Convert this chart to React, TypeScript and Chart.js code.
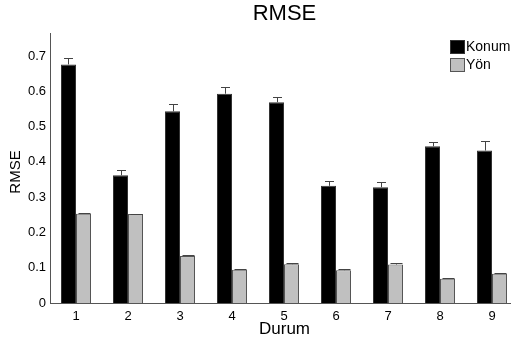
import React, { useEffect, useRef } from 'react';
import { Chart, registerables } from 'chart.js';

Chart.register(...registerables);

const categories = [1, 2, 3, 4, 5, 6, 7, 8, 9];
const seriesNames = ['Konum', 'Yön'];
const konumValues = [0.676, 0.362, 0.543, 0.593, 0.569, 0.332, 0.328, 0.444, 0.432];
const konumErrors = [0.019, 0.015, 0.021, 0.020, 0.016, 0.013, 0.014, 0.013, 0.027];
const yonValues = [0.253, 0.252, 0.133, 0.094, 0.110, 0.093, 0.109, 0.069, 0.083];
const yonErrors = [0.001, 0.001, 0.004, 0.002, 0.002, 0.002, 0.004, 0.001, 0.002];
const yTickValues = [0, 0.1, 0.2, 0.3, 0.4, 0.5, 0.6, 0.7];
const chartTitle = 'RMSE';
const xAxisTitle = 'Durum';
const yAxisTitle = 'RMSE';

const FONT = '"Liberation Sans", Arial, Helvetica, sans-serif';
const seriesFill = ['#000000', '#c0c0c0'];
const seriesBorder = ['#333333', '#555555'];
const errorSets = [konumErrors, yonErrors];
const capWidths = [9, 12];

const errorBarPlugin = {
  id: 'errorBars',
  afterDatasetsDraw(chart: any) {
    const ctx = chart.ctx;
    const yScale = chart.scales.y;
    ctx.save();
    ctx.strokeStyle = '#444444';
    ctx.lineWidth = 1;
    chart.data.datasets.forEach((ds: any, i: number) => {
      const meta = chart.getDatasetMeta(i);
      meta.data.forEach((bar: any, j: number) => {
        const v = ds.data[j].y;
        const e = errorSets[i][j];
        const yTop = Math.round(yScale.getPixelForValue(v + e)) + 0.5;
        const yBar = bar.y;
        const x = Math.round(bar.x) + 0.5;
        const cw = capWidths[i] / 2;
        ctx.beginPath();
        ctx.moveTo(x, yBar);
        ctx.lineTo(x, yTop);
        ctx.moveTo(x - cw, yTop);
        ctx.lineTo(x + cw, yTop);
        ctx.stroke();
      });
    });
    ctx.restore();
  },
};

const textPlugin = {
  id: 'texts',
  afterDraw(chart: any) {
    const ctx = chart.ctx;
    const area = chart.chartArea;
    ctx.save();
    ctx.fillStyle = '#000';
    ctx.textAlign = 'center';
    ctx.textBaseline = 'middle';
    ctx.font = `22px ${FONT}`;
    ctx.fillText(chartTitle, 284.5, 14);
    ctx.font = `17px ${FONT}`;
    ctx.fillText(xAxisTitle, 284.5, 329);
    ctx.save();
    ctx.translate(16, (area.top + area.bottom) / 2 + 4);
    ctx.rotate(-Math.PI / 2);
    ctx.font = `15px ${FONT}`;
    ctx.fillText(yAxisTitle, 0, 0);
    ctx.restore();
    ctx.font = `14px ${FONT}`;
    ctx.textAlign = 'left';
    seriesNames.forEach((name, i) => {
      const top = 40 + i * 18;
      ctx.fillStyle = seriesFill[i];
      ctx.fillRect(450, top, 15, 14);
      ctx.strokeStyle = seriesBorder[i];
      ctx.lineWidth = 1;
      ctx.strokeRect(450.5, top + 0.5, 14, 13);
      ctx.fillStyle = '#000';
      ctx.fillText(name, 466, top + 7.5);
    });
    ctx.restore();
  },
};

export default function App() {
  const canvasRef = useRef<HTMLCanvasElement | null>(null);

  useEffect(() => {
    const canvas = canvasRef.current;
    if (!canvas) return;
    const datasets = [konumValues, yonValues].map((vals, i) => ({
      label: seriesNames[i],
      data: categories.map((c, j) => ({ x: c, y: vals[j] })),
      backgroundColor: seriesFill[i],
      borderColor: seriesBorder[i],
      borderWidth: 1,
      categoryPercentage: 0.577,
      barPercentage: 1,
    }));
    const chart = new Chart(canvas, {
      type: 'bar',
      data: { datasets },
      plugins: [errorBarPlugin, textPlugin],
      options: {
        responsive: false,
        animation: false,
        devicePixelRatio: 1,
        layout: { padding: { top: 33, right: 6, left: 0, bottom: 0 } },
        plugins: {
          legend: { display: false },
          title: { display: false },
          tooltip: { enabled: false },
        },
        scales: {
          x: {
            type: 'linear',
            offset: false,
            min: 0.5,
            max: 9.346,
            afterBuildTicks: (axis: any) => {
              axis.ticks = categories.map((v) => ({ value: v }));
            },
            afterFit: (scale: any) => {
              scale.height = 42;
            },
            grid: { display: false, drawTicks: false, offset: false },
            border: { display: true, color: '#555555', width: 1 },
            ticks: {
              color: '#000',
              padding: 6,
              font: { family: FONT, size: 13 },
              callback: (v: any) => String(v),
              maxRotation: 0,
              autoSkip: false,
            },
          },
          y: {
            type: 'linear',
            min: 0,
            max: 0.765,
            afterBuildTicks: (axis: any) => {
              axis.ticks = yTickValues.map((v) => ({ value: v }));
            },
            afterFit: (scale: any) => {
              scale.width = 50;
            },
            grid: { display: false, drawTicks: false },
            border: { display: true, color: '#555555', width: 1 },
            ticks: {
              color: '#000',
              padding: 4,
              font: { family: FONT, size: 13 },
              callback: (v: any) => (v === 0 ? '0' : Number(v).toFixed(1)),
            },
          },
        },
      },
    } as any);
    return () => chart.destroy();
  }, []);

  return (
    <div style={{ position: 'absolute', left: 0, top: 0, width: 516, height: 345, background: '#fff' }}>
      <canvas ref={canvasRef} width={516} height={345} style={{ display: 'block' }} />
    </div>
  );
}
